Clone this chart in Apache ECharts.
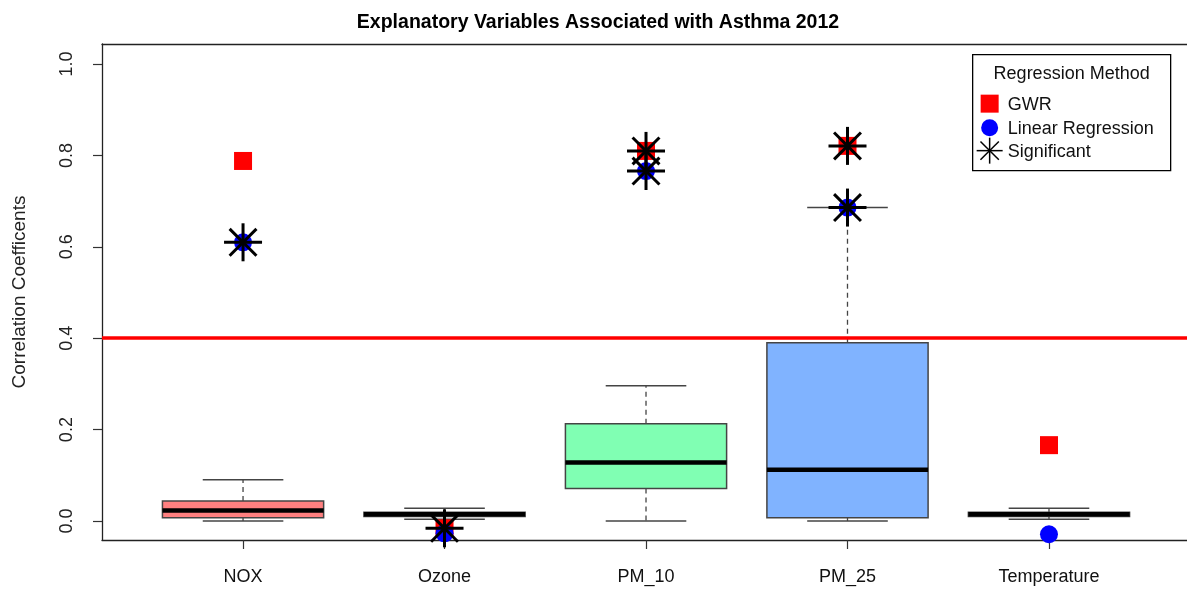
<!DOCTYPE html>
<html>
<head>
<meta charset="utf-8">
<script src="https://cdn.jsdelivr.net/npm/echarts@6/dist/echarts.min.js"></script>
<style>
  html, body { margin: 0; padding: 0; background: #fff; }
  #chart { width: 1187px; height: 592px; }
</style>
</head>
<body>
<div id="chart"></div>
<script>
// categories and box statistics
const categories = ['NOX', 'Ozone', 'PM_10', 'PM_25', 'Temperature'];
const whiskerLow = [0.000, 0.004, 0.000, 0.000, 0.004];
const quartile1 = [0.007, 0.010, 0.071, 0.007, 0.010];
const median = [0.023, 0.015, 0.128, 0.112, 0.015];
const quartile3 = [0.044, 0.019, 0.213, 0.390, 0.019];
const whiskerHigh = [0.090, 0.028, 0.296, 0.686, 0.028];

// point estimates per method
const gwrValues = [0.788, -0.016, 0.810, 0.821, 0.166];
const linearValues = [0.610, -0.027, 0.766, 0.686, -0.029];
const gwrSignificant = [false, true, true, true, false];
const linearSignificant = [true, false, true, true, false];

const yTicks = [0, 0.2, 0.4, 0.6, 0.8, 1.0];
const xTicks = [1, 2, 3, 4, 5];
const thresholds = [0.4];

// styles
const boxColors = ['#FF8080', '#E6FF80', '#80FFB3', '#80B3FF', '#E680FF'];
const FONT = '"Liberation Sans", Arial, sans-serif';
const FRAME = { color: '#222', width: 1.3 };

const chart = echarts.init(document.getElementById('chart'));

const boxData = categories.map((c, i) =>
    [i + 1, whiskerLow[i], quartile1[i], median[i], quartile3[i], whiskerHigh[i]]);
const gwrData = gwrValues.map((v, i) => [i + 1, v]);
const linearData = linearValues.map((v, i) => [i + 1, v]);
const starData = [];
gwrValues.forEach((v, i) => { if (gwrSignificant[i]) starData.push([i + 1, v]); });
linearValues.forEach((v, i) => { if (linearSignificant[i]) starData.push([i + 1, v]); });

function renderBox(params, api) {
    const x = api.value(0);
    const pLow = api.coord([x, api.value(1)]);
    const pQ1 = api.coord([x, api.value(2)]);
    const pMed = api.coord([x, api.value(3)]);
    const pQ3 = api.coord([x, api.value(4)]);
    const pHigh = api.coord([x, api.value(5)]);
    const halfBox = api.size([0.8, 0])[0] / 2;
    const halfCap = api.size([0.4, 0])[0] / 2;
    const cx = pMed[0];
    const dashed = { stroke: '#444', lineWidth: 1.3, lineDash: [5, 4] };
    const solid = { stroke: '#444', lineWidth: 1.5 };
    return {
        type: 'group',
        children: [
            { type: 'line', shape: { x1: cx, y1: pQ3[1], x2: cx, y2: pHigh[1] }, style: dashed },
            { type: 'line', shape: { x1: cx, y1: pQ1[1], x2: cx, y2: pLow[1] }, style: dashed },
            { type: 'line', shape: { x1: cx - halfCap, y1: pHigh[1], x2: cx + halfCap, y2: pHigh[1] }, style: solid },
            { type: 'line', shape: { x1: cx - halfCap, y1: pLow[1], x2: cx + halfCap, y2: pLow[1] }, style: solid },
            {
                type: 'rect',
                shape: { x: cx - halfBox, y: pQ3[1], width: halfBox * 2, height: pQ1[1] - pQ3[1] },
                style: { fill: boxColors[params.dataIndex], stroke: '#444', lineWidth: 1.5 }
            },
            { type: 'line', shape: { x1: cx - halfBox, y1: pMed[1], x2: cx + halfBox, y2: pMed[1] }, style: { stroke: '#000', lineWidth: 4.5 } }
        ]
    };
}

function starLines(cx, cy, r, width) {
    const d = r * Math.SQRT1_2;
    const st = { stroke: '#000', lineWidth: width };
    return [
        { type: 'line', shape: { x1: cx - r, y1: cy, x2: cx + r, y2: cy }, style: st },
        { type: 'line', shape: { x1: cx, y1: cy - r, x2: cx, y2: cy + r }, style: st },
        { type: 'line', shape: { x1: cx - d, y1: cy - d, x2: cx + d, y2: cy + d }, style: st },
        { type: 'line', shape: { x1: cx - d, y1: cy + d, x2: cx + d, y2: cy - d }, style: st }
    ];
}

function renderStar(params, api) {
    const p = api.coord([api.value(0), api.value(1)]);
    return { type: 'group', children: starLines(p[0], p[1], 19, 3) };
}

const option = {
    animation: false,
    backgroundColor: '#fff',
    textStyle: { fontFamily: FONT },
    title: {
        text: 'Explanatory Variables Associated with Asthma 2012',
        left: 593,
        textAlign: 'center',
        top: 8,
        textStyle: { fontFamily: FONT, fontSize: 19.5, fontWeight: 'bold', color: '#000' }
    },
    grid: { left: 102, top: 44, width: 1085, height: 496 },
    xAxis: [
        {
            type: 'value',
            position: 'bottom',
            min: 0.3, max: 5.685,
            axisLine: { show: true, onZero: false, lineStyle: FRAME },
            splitLine: { show: false },
            axisTick: { show: true, length: 9, lineStyle: { color: '#333', width: 1.2 }, customValues: xTicks },
            axisLabel: {
                customValues: xTicks,
                formatter: v => categories[Math.round(v) - 1] || '',
                margin: 28, fontSize: 18, color: '#111', fontFamily: FONT
            }
        },
        {
            type: 'value',
            position: 'top',
            min: 0.3, max: 5.685,
            axisLine: { show: true, onZero: false, lineStyle: FRAME },
            splitLine: { show: false },
            axisTick: { show: false },
            axisLabel: { show: false }
        }
    ],
    yAxis: {
        type: 'value',
        min: -0.0416, max: 1.044,
        name: 'Correlation Coefficents',
        nameLocation: 'middle',
        nameRotate: 90,
        nameGap: 73,
        nameTextStyle: { fontSize: 19, color: '#222', fontFamily: FONT },
        axisLine: { show: true, onZero: false, lineStyle: FRAME },
        splitLine: { show: false },
        axisTick: { show: true, length: 9, lineStyle: { color: '#333', width: 1.2 }, customValues: yTicks },
        axisLabel: {
            customValues: yTicks,
            rotate: 90,
            formatter: v => v.toFixed(1),
            margin: 26, fontSize: 18, color: '#222', fontFamily: FONT
        }
    },
    series: [
        {
            type: 'custom',
            name: 'box',
            renderItem: renderBox,
            data: boxData,
            clip: true,
            z: 2
        },
        {
            type: 'scatter',
            name: 'GWR',
            data: gwrData,
            symbol: 'rect',
            symbolSize: 18,
            itemStyle: { color: '#FF0000', opacity: 1 },
            z: 3,
            markLine: {
                silent: true,
                symbol: 'none',
                label: { show: false },
                lineStyle: { color: '#FF0000', width: 3.5, type: 'solid', opacity: 1 },
                data: thresholds.map(t => ({ yAxis: t }))
            }
        },
        {
            type: 'scatter',
            name: 'Linear Regression',
            data: linearData,
            symbol: 'circle',
            symbolSize: 18,
            itemStyle: { color: '#0000FF', opacity: 1 },
            z: 4
        },
        {
            type: 'custom',
            name: 'Significant',
            renderItem: renderStar,
            data: starData,
            z: 5
        }
    ],
    graphic: [
        {
            type: 'group',
            left: 972, top: 54,
            children: [
                { type: 'rect', shape: { x: 0, y: 0, width: 198, height: 116 }, style: { fill: '#fff', stroke: '#000', lineWidth: 1.3 } },
                { type: 'text', x: 99, y: 19, style: { text: 'Regression Method', fontSize: 18, fontFamily: FONT, fill: '#111', align: 'center', verticalAlign: 'middle' } },
                { type: 'rect', shape: { x: 8, y: 40, width: 18, height: 18 }, style: { fill: '#FF0000' } },
                { type: 'text', x: 35, y: 50, style: { text: 'GWR', fontSize: 18, fontFamily: FONT, fill: '#111', verticalAlign: 'middle' } },
                { type: 'circle', shape: { cx: 17, cy: 73, r: 8.5 }, style: { fill: '#0000FF' } },
                { type: 'text', x: 35, y: 74, style: { text: 'Linear Regression', fontSize: 18, fontFamily: FONT, fill: '#111', verticalAlign: 'middle' } },
                { type: 'group', children: starLines(17, 96, 13, 1.5) },
                { type: 'text', x: 35, y: 97, style: { text: 'Significant', fontSize: 18, fontFamily: FONT, fill: '#111', verticalAlign: 'middle' } }
            ]
        }
    ]
};

chart.setOption(option);
window.addEventListener('resize', function () { chart.resize(); });
</script>
</body>
</html>
